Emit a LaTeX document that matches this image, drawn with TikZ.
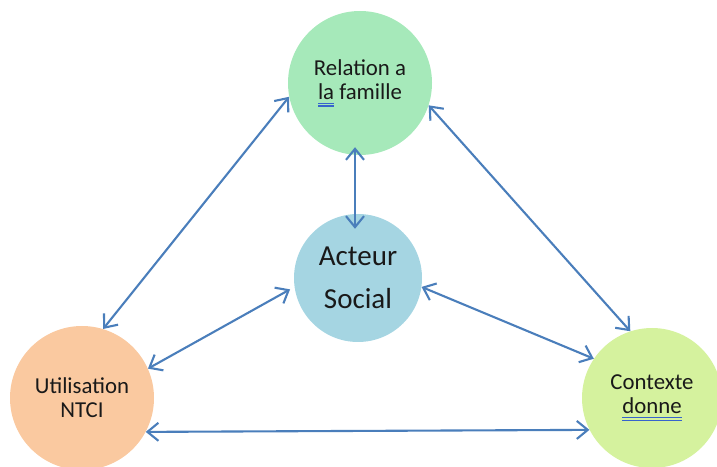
\documentclass[tikz,border=0pt]{standalone}
\usepackage{fontspec}
\setmainfont{Carlito}
\usetikzlibrary{arrows.meta}
\definecolor{cgreen}{RGB}{166,233,186}
\definecolor{cblue}{RGB}{165,213,226}
\definecolor{corange}{RGB}{250,201,160}
\definecolor{clime}{RGB}{213,242,158}
\definecolor{arrblue}{RGB}{74,126,187}
\definecolor{ulblue}{RGB}{55,100,205}
\definecolor{txt}{RGB}{25,25,25}
\newcommand{\dbul}[1]{\setbox0\hbox{#1}\rlap{\color{ulblue}\rule[-4.6pt]{\wd0}{1.2pt}}\rlap{\color{ulblue}\rule[-7.2pt]{\wd0}{1.2pt}}\box0\relax}
\begin{document}
\begin{tikzpicture}[x=1pt,y=1pt,
  circ/.style={circle,inner sep=0pt,text=txt,font=\fontsize{22.8}{24}\selectfont,align=center},
  arr/.style={draw=arrblue,line width=2.1pt,
    {Straight Barb[length=11pt,width=18pt]}-{Straight Barb[length=11pt,width=18pt]}}]
\useasboundingbox (0,0) rectangle (717,466);
\node[circ,fill=cgreen,minimum size=144pt] (g) at (360,383) {Relation a\\\dbul{la} famille};
\node[circ,fill=cblue,minimum size=128pt,font=\fontsize{29}{43}\selectfont] (b) at (358,188) {Acteur\\Social};
\node[circ,fill=corange,minimum size=144pt] (o) at (82,68) {Utilisation\\NTCI};
\node[circ,fill=clime,minimum size=140pt] (l) at (652,68) {Contexte\\\dbul{donne}};
\draw[arr] (g.191.8) -- (o.73.9);
\draw[arr,shorten >=5pt] (o.24.2) -- (b.188.8);
\draw[arr] (g.342.1) -- (l.108.7);
\draw[arr] (b.352) -- (l.146.3);
\draw[arr] (o.332.1) -- (l.207.3);
\draw[arr] ([xshift=-5pt,yshift=8pt]g.south) -- ([xshift=-3pt,yshift=-15pt]b.north);
\end{tikzpicture}
\end{document}
